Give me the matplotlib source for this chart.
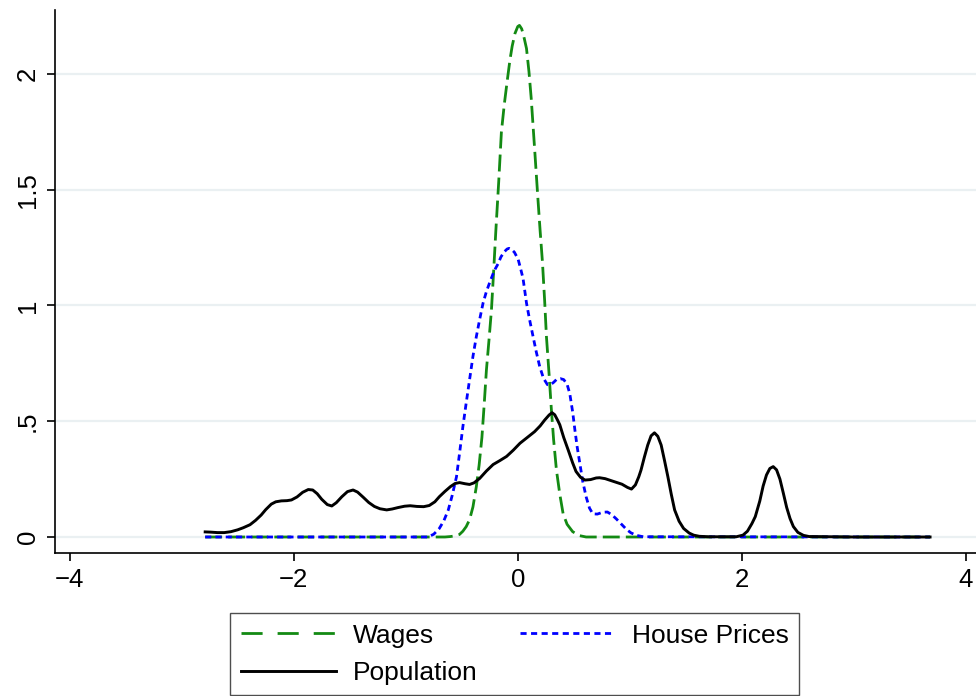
import matplotlib
matplotlib.use("Agg")
import matplotlib.pyplot as plt
from matplotlib.lines import Line2D

plt.rcParams['font.family'] = ['Liberation Sans', 'DejaVu Sans']

# kernel density estimates, read at points along each curve
wages_x = [-2.79, -0.65, -0.60, -0.56, -0.52, -0.49, -0.46, -0.43, -0.40, -0.37,
           -0.345, -0.32, -0.30, -0.28, -0.257, -0.235, -0.215, -0.196, -0.17, -0.146,
           -0.12, -0.095, -0.07, -0.05, -0.025, 0.0, 0.015, 0.035, 0.055, 0.078,
           0.10, 0.12, 0.15, 0.18, 0.20, 0.22, 0.24, 0.256, 0.28, 0.30,
           0.32, 0.345, 0.375, 0.405, 0.44, 0.49, 0.55, 0.61, 3.68]
wages_y = [0.0, 0.0, 0.002, 0.005, 0.011, 0.025, 0.045, 0.075, 0.13, 0.217,
           0.31, 0.43, 0.57, 0.72, 0.85, 0.98, 1.15, 1.32, 1.535, 1.75,
           1.87, 1.967, 2.06, 2.12, 2.175, 2.205, 2.21, 2.195, 2.16, 2.11,
           2.01, 1.895, 1.68, 1.46, 1.32, 1.19, 1.02, 0.865, 0.70, 0.55,
           0.42, 0.29, 0.185, 0.10, 0.055, 0.023, 0.006, 0.0, 0.0]

house_x = [-2.79, -0.80, -0.75, -0.70, -0.66, -0.62, -0.585, -0.547, -0.52, -0.49,
           -0.46, -0.43, -0.40, -0.37, -0.34, -0.31, -0.28, -0.25, -0.21, -0.176,
           -0.15, -0.12, -0.095, -0.078, -0.055, -0.03, 0.003, 0.025, 0.047, 0.078,
           0.105, 0.137, 0.165, 0.196, 0.23, 0.265, 0.29, 0.32, 0.345, 0.38,
           0.41, 0.44, 0.464, 0.49, 0.51, 0.53, 0.554, 0.58, 0.61, 0.64,
           0.67, 0.71, 0.76, 0.80, 0.84, 0.88, 0.926, 0.97, 1.01, 1.06,
           1.12, 3.68]
house_y = [0.0, 0.0, 0.012, 0.037, 0.07, 0.117, 0.18, 0.26, 0.36, 0.476,
           0.58, 0.68, 0.78, 0.865, 0.94, 1.01, 1.06, 1.10, 1.15, 1.18,
           1.21, 1.232, 1.244, 1.247, 1.242, 1.23, 1.20, 1.16, 1.117, 1.01,
           0.94, 0.865, 0.80, 0.736, 0.685, 0.658, 0.657, 0.668, 0.68, 0.684,
           0.680, 0.66, 0.62, 0.54, 0.462, 0.39, 0.318, 0.24, 0.174, 0.125,
           0.100, 0.099, 0.107, 0.108, 0.096, 0.078, 0.055, 0.033, 0.018, 0.007,
           0.001, 0.0]

pop_x = [-2.79, -2.74, -2.68, -2.62, -2.56, -2.50, -2.45, -2.39, -2.34, -2.29,
         -2.25, -2.20, -2.16, -2.11, -2.06, -2.02, -1.97, -1.92, -1.87, -1.83,
         -1.79, -1.75, -1.70, -1.66, -1.62, -1.57, -1.52, -1.47, -1.43, -1.38,
         -1.33, -1.28, -1.23, -1.17, -1.12, -1.07, -1.01, -0.96, -0.90, -0.84,
         -0.79, -0.74, -0.70, -0.65, -0.60, -0.56, -0.52, -0.47, -0.43, -0.39,
         -0.34, -0.28, -0.22, -0.16, -0.10, -0.04, 0.02, 0.08, 0.15, 0.20,
         0.24, 0.28, 0.306, 0.33, 0.355, 0.375, 0.41, 0.45, 0.49, 0.52,
         0.56, 0.60, 0.65, 0.70, 0.73, 0.78, 0.83, 0.88, 0.93, 0.98,
         1.015, 1.05, 1.08, 1.10, 1.13, 1.16, 1.19, 1.22, 1.25, 1.28,
         1.31, 1.34, 1.37, 1.40, 1.44, 1.48, 1.53, 1.57, 1.62, 1.70,
         1.95, 2.01, 2.05, 2.09, 2.12, 2.16, 2.19, 2.22, 2.25, 2.28,
         2.31, 2.34, 2.37, 2.40, 2.43, 2.46, 2.50, 2.55, 2.60, 3.00,
         3.68]
pop_y = [0.022, 0.021, 0.019, 0.019, 0.023, 0.031, 0.040, 0.053, 0.072, 0.095,
         0.118, 0.142, 0.152, 0.156, 0.157, 0.160, 0.173, 0.193, 0.205, 0.203,
         0.187, 0.163, 0.140, 0.134, 0.148, 0.174, 0.196, 0.203, 0.194, 0.172,
         0.149, 0.132, 0.122, 0.117, 0.121, 0.127, 0.133, 0.135, 0.132, 0.131,
         0.136, 0.152, 0.174, 0.197, 0.218, 0.231, 0.235, 0.230, 0.227, 0.234,
         0.253, 0.285, 0.313, 0.330, 0.348, 0.375, 0.405, 0.428, 0.455, 0.480,
         0.505, 0.527, 0.537, 0.528, 0.505, 0.485, 0.430, 0.376, 0.320, 0.283,
         0.258, 0.246, 0.248, 0.255, 0.256, 0.252, 0.244, 0.236, 0.228, 0.214,
         0.207, 0.225, 0.26, 0.289, 0.345, 0.397, 0.437, 0.450, 0.435, 0.397,
         0.33, 0.26, 0.185, 0.117, 0.068, 0.037, 0.017, 0.008, 0.003, 0.001,
         0.001, 0.008, 0.025, 0.058, 0.088, 0.155, 0.220, 0.268, 0.296, 0.304,
         0.290, 0.250, 0.190, 0.128, 0.080, 0.045, 0.020, 0.007, 0.002, 0.0,
         0.0]

xticks = [-4, -2, 0, 2, 4]
xtick_labels = ['\u22124', '\u22122', '0', '2', '4']
yticks = [0, 0.5, 1, 1.5, 2]
ytick_labels = ['0', '.5', '1', '1.5', '2']

green = '#138a13'
blue = '#0000ff'

fig = plt.figure(figsize=(9.76, 6.96), dpi=100)
ax = fig.add_axes([0.0564, 0.2055, 0.9436, 0.780])

for y in yticks:
    ax.axhline(y, color='#eaf0f2', lw=1.6, zorder=0)

ax.plot(wages_x, wages_y, color=green, lw=2.0, dashes=(6.1, 2.2),
        dash_joinstyle='round')
ax.plot(house_x, house_y, color=blue, lw=2.0, dashes=(2.2, 1.5),
        dash_joinstyle='round')
ax.plot(pop_x, pop_y, color='black', lw=2.1, solid_joinstyle='round')

ax.set_xlim(-4.13, 4.09)
ax.set_ylim(-0.069, 2.276)
ax.set_xticks(xticks)
ax.set_xticklabels(xtick_labels)
ax.set_yticks(yticks)
ax.set_yticklabels(ytick_labels, rotation=90, va='center')
ax.tick_params(labelsize=18.5, length=6, width=1.2, direction='out', pad=5)

for side in ['top', 'right']:
    ax.spines[side].set_visible(False)
for side in ['left', 'bottom']:
    ax.spines[side].set_linewidth(1.2)

# legend: Wages / House Prices on the first row, Population below
handles = [
    Line2D([], [], color=green, lw=2.0, dashes=(7.6, 5.4)),
    Line2D([], [], color='black', lw=2.1),
    Line2D([], [], color=blue, lw=2.0, dashes=(2.2, 1.6)),
]
labels = ['Wages', 'Population', 'House Prices']
leg = fig.legend(handles, labels, ncol=2, fontsize=19, loc='upper left',
                 bbox_to_anchor=(230 / 976, 1 - 613 / 696),
                 frameon=True, fancybox=False, edgecolor='#222222',
                 handlelength=3.6, handletextpad=0.65, columnspacing=1.6,
                 borderpad=0.4, labelspacing=0.5, borderaxespad=0)
leg.get_frame().set_linewidth(1.0)

fig.savefig('out.png', dpi=100)
